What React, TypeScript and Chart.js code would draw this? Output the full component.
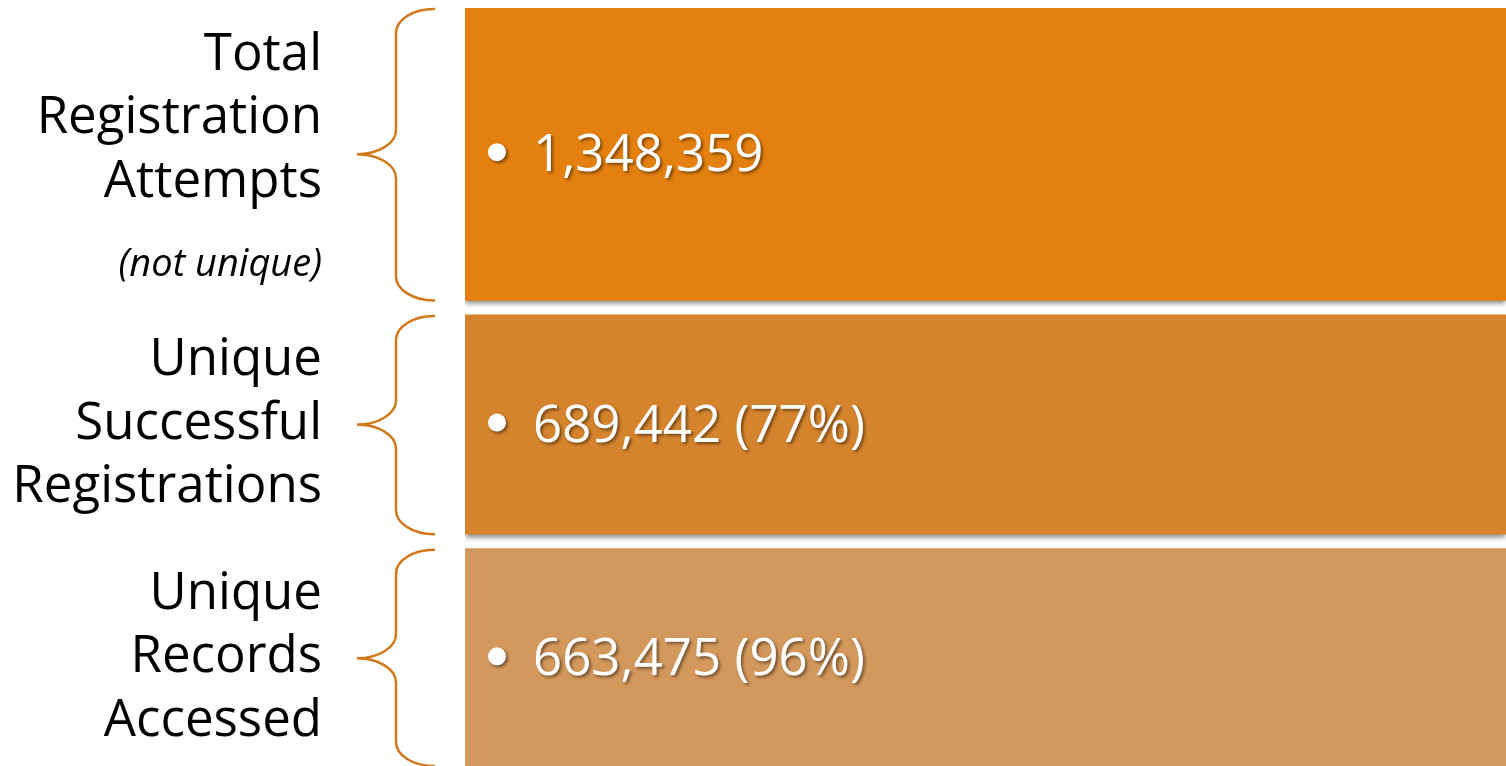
import React, { useEffect, useRef } from 'react';
import { Chart, registerables } from 'chart.js';
Chart.register(...registerables);

// ---- data ----
const categories = ['Total Registration Attempts', 'Unique Successful Registrations', 'Unique Records Accessed'];
const labelLines = [
  ['Total', 'Registration', 'Attempts'],
  ['Unique', 'Successful', 'Registrations'],
  ['Unique', 'Records', 'Accessed'],
];
const labelNotes = ['(not unique)', '', ''];
const counts = [1348359, 689442, 663475];
const percents: (number | null)[] = [null, 77, 96];
const boxColors = ['#E4800F', '#D5842D', '#D3985B'];

// ---- layout (not data) ----
const W = 1506;
const H = 768;
const VIEW_H = 766;
const TOP_PAD = 8;
const BOX_LEFT = 465;
const GAP = 14.5;
const LINE_H = 63.5;
const NOTE_GAP = 79;
const NOTE_LIFT = 35;
const LABEL_RIGHT = 322;
const BRACE_TIP = 357;
const BRACE_STEM = 396;
const BRACE_END = 434;
const BRACE_COLOR = '#D0781A';
const FONT = '"Open Sans", "Noto Sans", sans-serif';

const weights = labelLines.map((l, i) => l.length + (labelNotes[i] ? 1 : 0));
const totalUnits = H - TOP_PAD;
const unit = (totalUnits - GAP * (weights.length - 1)) / weights.reduce((a, b) => a + b, 0);
const spans: [number, number][] = [];
{
  let s = 0;
  weights.forEach((w) => {
    spans.push([s, s + w * unit]);
    s += w * unit + GAP;
  });
}

const fmt = (n: number) => n.toLocaleString('en-US');

const overlay = {
  id: 'overlay',
  beforeDatasetDraw(chart: any) {
    const ctx = chart.ctx;
    ctx.save();
    ctx.shadowColor = 'rgba(0,0,0,0.45)';
    ctx.shadowBlur = 5;
    ctx.shadowOffsetX = 0;
    ctx.shadowOffsetY = 3;
  },
  afterDatasetDraw(chart: any) {
    chart.ctx.restore();
  },
  afterDatasetsDraw(chart: any) {
    const ctx: CanvasRenderingContext2D = chart.ctx;
    categories.forEach((_, i) => {
      const el = chart.getDatasetMeta(i).data[0];
      const p = el.getProps(['x', 'y', 'base', 'width'], true);
      const top = Math.min(p.y, p.base);
      const bottom = Math.max(p.y, p.base);
      const left = p.x - p.width / 2;
      const c = (top + bottom) / 2;

      // brace
      const k = 0.55;
      const rx = BRACE_END - BRACE_STEM;
      const ry = 24;
      const mx = BRACE_STEM - BRACE_TIP;
      const bTop = top + 1;
      const bBot = Math.min(bottom, VIEW_H);
      ctx.save();
      ctx.strokeStyle = BRACE_COLOR;
      ctx.lineWidth = 2.5;
      ctx.lineCap = 'round';
      ctx.beginPath();
      ctx.moveTo(BRACE_END, bTop);
      ctx.bezierCurveTo(BRACE_END - k * rx, bTop, BRACE_STEM, bTop + ry - k * ry, BRACE_STEM, bTop + ry);
      ctx.lineTo(BRACE_STEM, c - ry);
      ctx.bezierCurveTo(BRACE_STEM, c - ry + k * ry, BRACE_TIP + k * mx, c, BRACE_TIP, c);
      ctx.bezierCurveTo(BRACE_TIP + k * mx, c, BRACE_STEM, c + ry - k * ry, BRACE_STEM, c + ry);
      ctx.lineTo(BRACE_STEM, bBot - ry);
      ctx.bezierCurveTo(BRACE_STEM, bBot - ry + k * ry, BRACE_END - k * rx, bBot, BRACE_END, bBot);
      ctx.stroke();
      ctx.restore();

      // left labels
      const lines = labelLines[i];
      const note = labelNotes[i];
      const first = c + 14 - ((lines.length - 1) * LINE_H) / 2 - (note ? NOTE_LIFT : 0);
      ctx.save();
      ctx.fillStyle = '#000';
      ctx.textAlign = 'right';
      ctx.textBaseline = 'alphabetic';
      ctx.font = `51px ${FONT}`;
      lines.forEach((t, j) => ctx.fillText(t, LABEL_RIGHT, first + j * LINE_H));
      if (note) {
        ctx.font = `italic 38px ${FONT}`;
        ctx.fillText(note, LABEL_RIGHT, first + (lines.length - 1) * LINE_H + NOTE_GAP);
      }
      ctx.restore();

      // value text with bullet
      const pct = percents[i];
      const txt = fmt(counts[i]) + (pct != null ? ` (${pct}%)` : '');
      ctx.save();
      ctx.shadowColor = 'rgba(0,0,0,0.45)';
      ctx.shadowBlur = 3;
      ctx.shadowOffsetX = 2;
      ctx.shadowOffsetY = 2;
      ctx.fillStyle = '#FFFFFF';
      ctx.beginPath();
      ctx.arc(left + 32, c - 2, 9, 0, Math.PI * 2);
      ctx.fill();
      ctx.font = `51px ${FONT}`;
      ctx.textAlign = 'left';
      ctx.textBaseline = 'alphabetic';
      ctx.fillText(txt, left + 68, c + 17);
      ctx.restore();
    });
  },
};

export default function App() {
  const ref = useRef<HTMLCanvasElement | null>(null);
  useEffect(() => {
    document.body.style.margin = '0';
    const canvas = ref.current!;
    const chart = new Chart(canvas, {
      type: 'bar',
      data: {
        labels: ['rows'],
        datasets: categories.map((name, i) => ({
          label: name,
          data: [spans[i]] as any,
          backgroundColor: boxColors[i],
          borderWidth: 0,
          grouped: false,
          barPercentage: 1,
          categoryPercentage: 1,
        })),
      },
      options: {
        responsive: false,
        animation: false,
        devicePixelRatio: 1,
        layout: { padding: { left: BOX_LEFT, top: TOP_PAD, right: 0, bottom: 0 } },
        plugins: { legend: { display: false }, tooltip: { enabled: false } },
        scales: {
          x: { type: 'category', display: false, offset: true },
          y: { type: 'linear', reverse: true, min: 0, max: totalUnits, display: false },
        },
      },
      plugins: [overlay],
    });
    return () => chart.destroy();
  }, []);
  return (
    <div style={{ position: 'fixed', left: 0, top: 0, width: W, height: VIEW_H, overflow: 'hidden', background: '#fff' }}>
      <canvas ref={ref} width={W} height={H} style={{ display: 'block' }} />
    </div>
  );
}
